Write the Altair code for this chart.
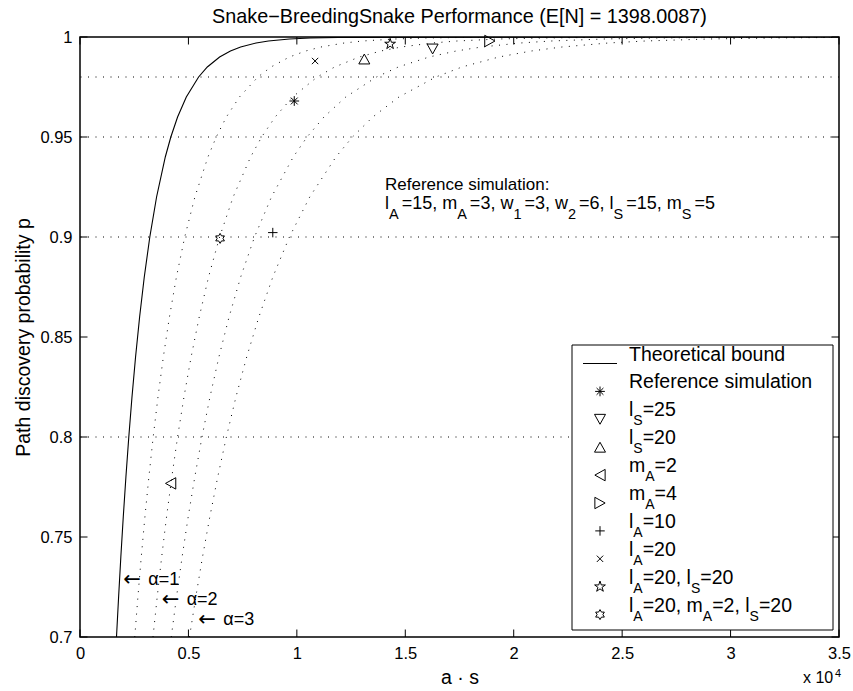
import math
import altair as alt
import pandas as pd

# ---------------- data ----------------
E_N = 1398.0087
P_LEVELS = [0.70, 0.72, 0.74, 0.76, 0.78, 0.80, 0.82, 0.84, 0.86, 0.88, 0.90, 0.92,
            0.94, 0.95, 0.96, 0.97, 0.98, 0.985, 0.99, 0.993, 0.995, 0.997, 0.998,
            0.999, 0.9995, 0.9998, 1.0]
X_BOUND = [1683, 1780, 1883, 1995, 2117, 2250, 2397, 2562, 2749, 2964, 3219, 3531, 3933,
           4188, 4500, 4902, 5469, 5871, 6438, 6937, 7407, 8121, 8688, 9657, 10626, 11907, 35000]
X_A15 = [2525, 2670, 2825, 2993, 3176, 3375, 3596, 3843, 4124, 4446, 4829, 5297, 5900,
         6282, 6750, 7353, 8204, 8807, 9657, 10406, 11111, 12182, 13032, 14486, 15939, 17861, 35000]
X_A2 = [3366, 3560, 3766, 3990, 4234, 4500, 4794, 5124, 5498, 5928, 6438, 7062, 7866,
        8376, 9000, 9804, 10938, 11742, 12876, 13874, 14814, 16242, 17376, 19314, 21252, 23814, 35000]
X_A25 = [4208, 4450, 4708, 4988, 5293, 5625, 5993, 6405, 6873, 7410, 8048, 8828, 9833,
         10470, 11250, 12255, 13673, 14678, 16095, 17343, 18518, 20303, 21720, 24143, 26565, 29768, 35000]
X_A3 = [5049, 5340, 5649, 5985, 6351, 6750, 7191, 7686, 8247, 8892, 9657, 10593, 11799,
        12564, 13500, 14706, 16407, 17613, 19314, 20811, 22221, 24363, 26064, 28971, 31878, 35000, 35000]
ALPHA_NAMES = ["1.5", "2", "2.5", "3"]
ALPHA_X = [X_A15, X_A2, X_A25, X_A3]

REF_P = [0.80, 0.90, 0.95, 0.98]

SIM_LABELS = ["Reference simulation", "l_S=25", "l_S=20", "m_A=2", "m_A=4",
              "l_A=10", "l_A=20", "l_A=20, l_S=20", "l_A=20, m_A=2, l_S=20"]
SIM_MARKERS = ["asterisk", "tri_down", "tri_up", "tri_left", "tri_right",
               "plus", "cross", "pentagram", "hexagram"]
SIM_X = [9880, 16260, 13110, 4180, 18900, 8890, 10840, 14300, 6460]
SIM_P = [0.968, 0.994, 0.989, 0.7768, 0.998, 0.9022, 0.988, 0.9965, 0.8993]

TITLE = "Snake\u2212BreedingSnake Performance (E[N] = 1398.0087)"
ANNOT_1 = "Reference simulation:"
ANNOT_2 = "l_A=15, m_A=3, w_1=3, w_2=6, l_S=15, m_S=5"
ALPHA_TEXT = ["\u03b1=1", "\u03b1=2", "\u03b1=3"]
X_TICKS = [0, 5000, 10000, 15000, 20000, 25000, 30000, 35000]
Y_TICKS = [0.7, 0.75, 0.8, 0.85, 0.9, 0.95, 1.0]

# ---------------- layout ----------------
L, T, W, H = 80, 37, 759, 600
XMAX, PMIN, PMAX = 35000.0, 0.7, 1.0
FONT = "Liberation Sans"


def px2x(px):
    return (px - L) / W * XMAX


def px2p(py):
    return PMAX - (py - T) / H * (PMAX - PMIN)


CW = {'l': .222, 'A': .667, '=': .584, '0': .556, '1': .556, '2': .556, '3': .556,
      '4': .556, '5': .556, '6': .556, ',': .278, ' ': .278, 'm': .833, 'w': .722, 'S': .667}


def parse(label):
    segs, buf, i = [], '', 0
    while i < len(label):
        c = label[i]
        if c == '_' and i + 1 < len(label):
            if buf:
                segs.append((buf, False))
                buf = ''
            segs.append((label[i + 1], True))
            i += 2
            continue
        buf += c
        i += 1
    if buf:
        segs.append((buf, False))
    return segs


def layout(label, x_px, base_px, fs, sfs, drop, sub_gap=0.0):
    rows, cur = [], x_px
    for s, sub in parse(label):
        size = sfs if sub else fs
        rows.append(dict(x=px2x(cur), y=px2p(base_px + (drop if sub else 0)), t=s, fs=size))
        cur += sum(CW.get(c, 0.556) for c in s) * size + (sub_gap if sub else 0)
    return rows


def star(n, r_in):
    pts = []
    for k in range(2 * n):
        r = 1.0 if k % 2 == 0 else r_in
        a = -math.pi / 2 + k * math.pi / n
        pts.append(f"{r * math.cos(a):.3f},{r * math.sin(a):.3f}")
    return "M" + "L".join(pts) + "Z"


SHAPES = {
    "asterisk": "M-1,0L1,0M0,-1L0,1M-0.7,-0.7L0.7,0.7M-0.7,0.7L0.7,-0.7",
    "plus": "M-1,0L1,0M0,-1L0,1",
    "cross": "M-1,-1L1,1M-1,1L1,-1",
    "tri_up": "M0,-0.9L1,0.9L-1,0.9Z",
    "tri_down": "M0,0.9L1,-0.9L-1,-0.9Z",
    "tri_left": "M-0.9,0L0.9,-1L0.9,1Z",
    "tri_right": "M0.9,0L-0.9,-1L-0.9,1Z",
    "pentagram": star(5, 0.382),
    "hexagram": star(6, 0.577),
}
SIZES = {"asterisk": 95, "plus": 90, "cross": 40, "tri_up": 121, "tri_down": 121,
         "tri_left": 130, "tri_right": 130, "pentagram": 128, "hexagram": 100}

# ---------------- tables ----------------
curve_rows = []
for name, xs_ in zip(ALPHA_NAMES, ALPHA_X):
    for i, (xv, pv) in enumerate(zip(xs_, P_LEVELS)):
        curve_rows.append(dict(alpha=name, i=i, x=xv, p=pv))
df_curves = pd.DataFrame(curve_rows)
df_bound = pd.DataFrame(dict(i=range(len(P_LEVELS)), x=X_BOUND, p=P_LEVELS))
df_ref = pd.DataFrame(dict(p=REF_P))

tk = 7.5
tick_rows = []
for xv in X_TICKS:
    tick_rows.append(dict(x=xv, x2=xv, y=PMIN, y2=px2p(T + H - tk)))
    tick_rows.append(dict(x=xv, x2=xv, y=PMAX, y2=px2p(T + tk)))
for yv in Y_TICKS:
    tick_rows.append(dict(x=0, x2=px2x(L + tk), y=yv, y2=yv))
    tick_rows.append(dict(x=XMAX, x2=px2x(L + W - tk), y=yv, y2=yv))
df_ticks = pd.DataFrame(tick_rows)

# legend geometry (pixels -> data)
LEG_BOX = (572, 345, 833, 630)
row_y = [363.5 + 27.9 * k for k in range(10)]
df_legbox = pd.DataFrame([dict(x=px2x(LEG_BOX[0]), x2=px2x(LEG_BOX[2]),
                               y=px2p(LEG_BOX[1]), y2=px2p(LEG_BOX[3]))])
df_legline = pd.DataFrame([dict(x=px2x(583), x2=px2x(617), y=px2p(row_y[0]))])

marker_rows = []
for m, xv, pv in zip(SIM_MARKERS, SIM_X, SIM_P):
    marker_rows.append(dict(x=xv, y=pv, shape=SHAPES[m], sz=SIZES[m]))
for k, m in enumerate(SIM_MARKERS):
    marker_rows.append(dict(x=px2x(600), y=px2p(row_y[k + 1]), shape=SHAPES[m], sz=SIZES[m]))
df_markers = pd.DataFrame(marker_rows)

text_rows = []
text_rows += layout("Theoretical bound", 629, row_y[0] - 3, 19.5, 14, 9)
for k, lab in enumerate(SIM_LABELS):
    text_rows += layout(lab, 629, row_y[k + 1] - 3, 19.5, 14, 9)
text_rows += layout(ANNOT_1, 385, 190, 17, 14, 10)
text_rows += layout(ANNOT_2, 385, 208.5, 18, 14.5, 10.5, sub_gap=3)
df_text = pd.DataFrame(text_rows)

alpha_px = [(123.3, 580), (161.7, 600), (198.3, 620)]
df_arrow = pd.DataFrame([dict(x=px2x(a), y=px2p(b), t="\u2190") for (a, b) in alpha_px])
df_alpha = pd.DataFrame([dict(x=px2x(a + 25), y=px2p(b), t=t) for (a, b), t in zip(alpha_px, ALPHA_TEXT)])

# ---------------- chart ----------------
xs = alt.Scale(domain=[0, XMAX], nice=False, zero=False)
ys = alt.Scale(domain=[PMIN, PMAX], nice=False, zero=False)

x_axis = alt.Axis(values=X_TICKS, labelExpr="format(datum.value / 10000, '~g')",
                  ticks=False, domain=False, grid=False, labelFlush=False,
                  labelOverlap=False, labelFont=FONT, labelFontSize=16.5, labelColor="black",
                  labelPadding=8, title="a \u00b7 s", titleFont=FONT, titleFontSize=19.5,
                  titleFontWeight="normal", titleColor="black", titleX=379.5, titleY=40,
                  titleBaseline="middle", titleAlign="center")
y_axis = alt.Axis(values=Y_TICKS, format="~g", ticks=False, domain=False,
                  grid=False, labelFlush=False, labelOverlap=False, labelFont=FONT,
                  labelFontSize=16.5, labelColor="black", labelPadding=8,
                  title="Path discovery probability p", titleFont=FONT, titleFontSize=19.5,
                  titleFontWeight="normal", titleColor="black", titleX=-57, titleY=300,
                  titleAngle=270, titleBaseline="middle", titleAlign="center")

DOT = [1, 6.5]
X = lambda f: alt.X(f, scale=xs)
Y = lambda f: alt.Y(f, scale=ys)

curves = alt.Chart(df_curves).mark_line(color="black", strokeWidth=1, strokeDash=DOT, clip=True).encode(
    x=alt.X("x:Q", scale=xs, axis=x_axis),
    y=alt.Y("p:Q", scale=ys, axis=y_axis),
    detail="alpha:N", order="i:Q")

hlines = alt.Chart(df_ref).mark_rule(color="black", strokeWidth=1, strokeDash=DOT).encode(
    y=Y("p:Q"))

bound = alt.Chart(df_bound).mark_line(color="black", strokeWidth=1.1, clip=True).encode(
    x=X("x:Q"), y=Y("p:Q"), order="i:Q")

ticks = alt.Chart(df_ticks).mark_rule(color="black", strokeWidth=1).encode(
    x=X("x:Q"), x2="x2:Q", y=Y("y:Q"), y2="y2:Q")

legbox = alt.Chart(df_legbox).mark_rect(fill="white", stroke="black", strokeWidth=1).encode(
    x=X("x:Q"), x2="x2:Q", y=Y("y:Q"), y2="y2:Q")

legline = alt.Chart(df_legline).mark_rule(color="black", strokeWidth=1).encode(
    x=X("x:Q"), x2="x2:Q", y=Y("y:Q"))

markers = alt.Chart(df_markers).mark_point(filled=False, color="black", strokeWidth=1, opacity=1).encode(
    x=X("x:Q"), y=Y("y:Q"),
    shape=alt.Shape("shape:N", scale=None), size=alt.Size("sz:Q", scale=None))

texts = alt.Chart(df_text).mark_text(align="left", baseline="alphabetic", font=FONT, color="black").encode(
    x=X("x:Q"), y=Y("y:Q"), text="t:N", size=alt.Size("fs:Q", scale=None))

arrows = alt.Chart(df_arrow).mark_text(align="left", baseline="middle", font="DejaVu Sans",
                                       fontSize=21, color="black").encode(
    x=X("x:Q"), y=Y("y:Q"), text="t:N")

alphas = alt.Chart(df_alpha).mark_text(align="left", baseline="middle", font=FONT, fontSize=18,
                                       color="black").encode(
    x=X("x:Q"), y=Y("y:Q"), text="t:N")

title = alt.Chart(pd.DataFrame(dict(t=[TITLE]))).mark_text(
    align="center", baseline="alphabetic", font=FONT, fontSize=19.8, color="black").encode(
    x=alt.value(W / 2), y=alt.value(23.3 - T), text="t:N")

exp_base = alt.Chart(pd.DataFrame(dict(t=["x 10"]))).mark_text(
    align="left", baseline="alphabetic", font=FONT, fontSize=16, color="black").encode(
    x=alt.value(803 - L), y=alt.value(683 - T), text="t:N")
exp_pow = alt.Chart(pd.DataFrame(dict(t=["4"]))).mark_text(
    align="left", baseline="alphabetic", font=FONT, fontSize=11, color="black").encode(
    x=alt.value(835 - L), y=alt.value(677 - T), text="t:N")

chart = alt.layer(curves, hlines, bound, ticks, legbox, legline, markers, texts, arrows, alphas,
                  title, exp_base, exp_pow).properties(
    width=W, height=H,
    padding={"left": L, "top": T, "right": 853 - L - W, "bottom": 691 - T - H},
    autosize=alt.AutoSizeParams(type="none"),
    background="white",
).configure_view(stroke="black", strokeWidth=1.5)

chart.save("out.html", embed_options={"renderer": "svg", "actions": False})
